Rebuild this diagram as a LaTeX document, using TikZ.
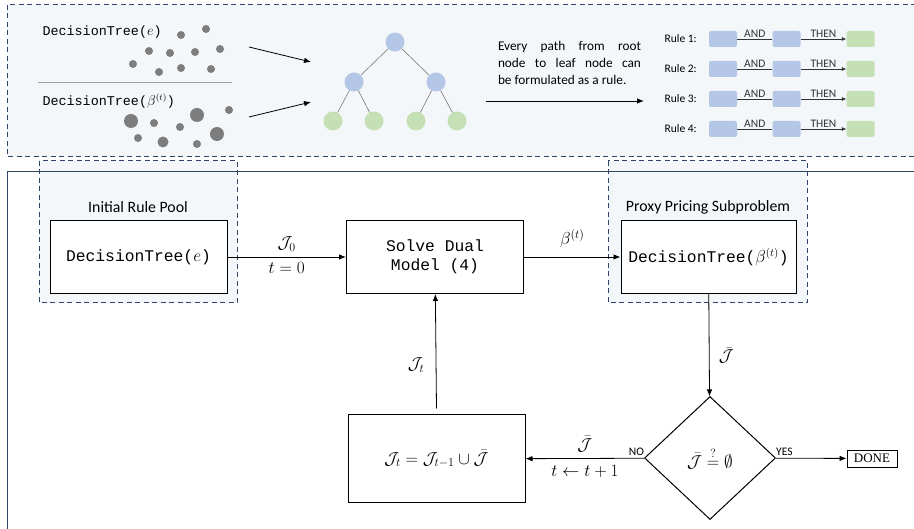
\documentclass[tikz,border=0pt]{standalone}
\usepackage{amsmath, amssymb}
\usepackage{fontspec}
\setmainfont{Carlito}
\setmonofont{Liberation Mono}
\newfontfamily\donefont{Liberation Serif}
\usetikzlibrary{arrows.meta, shapes.geometric}

\definecolor{navy}{RGB}{47,68,102}
\definecolor{panelfill}{RGB}{244,247,249}
\definecolor{dotgray}{RGB}{125,125,125}
\definecolor{tblue}{RGB}{180,199,231}
\definecolor{tgreen}{RGB}{197,224,180}

\tikzset{
  panel/.style={draw=navy, fill=panelfill, line width=1pt, dash pattern=on 5pt off 3.5pt},
  tnode/.style={circle, inner sep=0pt, minimum size=19pt},
  rbox/.style={rounded corners=2pt, inner sep=0pt, minimum width=28pt, minimum height=16pt},
  blk/.style={draw, line width=1pt, minimum width=177pt, minimum height=73pt, align=center,
    font=\fontsize{16.3}{19}\selectfont\ttfamily},
  flow/.style={-{Latex[length=7pt,width=5.5pt]}, line width=0.8pt},
  lbl/.style={font=\fontsize{17.5}{19}\selectfont},
  tag/.style={font=\fontsize{11.5}{13}\selectfont, inner sep=2pt}
}
% one line of the note, spread to the full width
\newcommand{\noteline}[1]{\makebox[143pt][s]{#1}}

\begin{document}
\begin{tikzpicture}[x=1pt, y=-1pt]
  \clip (0,0) rectangle (914,529);

  % top panel: from trees to rules
  \draw[panel] (7,5) rectangle (930,157);

  \node[anchor=west, font=\fontsize{13.4}{15}\selectfont\ttfamily] (dte) at (39,32) {DecisionTree($e$)};
  \node[anchor=west, font=\fontsize{13.4}{15}\selectfont\ttfamily] (dtb) at (39,101) {DecisionTree($\beta^{(t)}$)};
  \draw[gray!75, line width=0.9pt] (38,82) -- (232,82);

  \foreach \x/\y/\r in {181/35/4, 206/29/4, 149/51/4, 170/53/4, 195/52/4, 220/49/4,
                        133/64/4, 159/72/4, 181/68/4, 211/69/4,
                        131/121/7, 154/123/4, 197/115/7, 229/110/4, 180/127/4,
                        138/138/4, 163/142/5.5, 197/144/4, 217/134/7}
    \fill[dotgray] (\x,\y) circle (\r pt);

  \coordinate (s1) at (249,47);
  \coordinate (s2) at (249,117);
  \coordinate (e1) at (311,62);
  \coordinate (e2) at (311,102);
  \draw[flow] (s1) -- (e1);
  \draw[flow] (s2) -- (e2);

  % the tree
  \node[tnode, fill=tblue] (root) at (395,42) {};
  \node[tnode, fill=tblue] (m1) at (354,82) {};
  \node[tnode, fill=tblue] (m2) at (436,82) {};
  \node[tnode, fill=tgreen] (l1) at (333,121) {};
  \node[tnode, fill=tgreen] (l2) at (374,121) {};
  \node[tnode, fill=tgreen] (l3) at (416,121) {};
  \node[tnode, fill=tgreen] (l4) at (457,121) {};
  \draw[gray!80!black, line width=0.5pt] (root) -- (m1) (root) -- (m2)
    (m1) -- (l1) (m1) -- (l2) (m2) -- (l3) (m2) -- (l4);

  \node[align=left, inner sep=0pt, font=\fontsize{13.3}{17}\selectfont] (txt) at (569.5,63)
    {\noteline{Every path from root}\\ \noteline{node to leaf node can}\\ be formulated as a rule.};
  \coordinate (p1) at (486,101);
  \coordinate (p2) at (644,101);
  \draw[flow] (p1) -- (p2);

  \foreach \i/\y in {1/39, 2/69, 3/99, 4/129} {
    \node[tag, anchor=east] (rl\i) at (699,\y) {Rule \i:};
    \node[rbox, fill=tblue] (ra\i) at (723,\y) {};
    \node[rbox, fill=tblue] (rb\i) at (786.5,\y) {};
    \node[rbox, fill=tgreen] (rc\i) at (860.5,\y) {};
    \draw[black!80, line width=0.6pt] (ra\i) -- node[tag, above, inner sep=1pt] {AND} (rb\i);
    \draw[black!80, line width=0.6pt, -{Latex[length=4.5pt,width=4pt]}] (rb\i) -- node[tag, above, inner sep=1pt] {THEN} (rc\i);
  }

  % bottom panel: column generation loop
  \draw[panel] (39,161) rectangle (237,303);
  \draw[panel] (608,161) rectangle (807,303);
  \draw[navy, line width=1pt] (7,172) rectangle (930,560);

  \node[font=\fontsize{15.8}{18}\selectfont] (poolname) at (138,207) {Initial Rule Pool};
  \node[font=\fontsize{15.8}{18}\selectfont] (proxyname) at (708,207) {Proxy Pricing Subproblem};

  \node[blk, fill=white] (init) at (138.5,257) {DecisionTree($e$)};
  \node[blk] (dual) at (435,257) {Solve Dual\\Model (4)};
  \node[blk, fill=white, minimum width=175pt] (proxy) at (708.5,257) {DecisionTree($\beta^{(t)}$)};
  \node[blk, minimum height=88pt, font=\fontsize{18}{20}\selectfont] (union) at (436.5,459)
    {$\mathcal{J}_t=\mathcal{J}_{t-1}\cup\bar{\mathcal{J}}$};
  \node[diamond, draw, line width=1pt, inner sep=0pt, minimum width=131pt, minimum height=123pt,
    font=\fontsize{18}{20}\selectfont] (check) at (710,458) {$\bar{\mathcal{J}}\stackrel{?}{=}\emptyset$};
  \node[draw, line width=0.9pt, inner sep=0pt, minimum width=50pt, minimum height=17pt,
    font=\donefont\fontsize{13}{14}\selectfont] (done) at (872,458.5) {DONE};

  \draw[flow] (init) -- node[lbl, above=2pt] {$\mathcal{J}_0$} node[lbl, below=2pt] {$t=0$} (dual);
  \draw[flow] (dual) -- node[lbl, above=5pt] {$\beta^{(t)}$} (proxy);
  \draw[flow] (proxy) -- node[lbl, right=6pt, pos=0.6] {$\bar{\mathcal{J}}$} (check);
  \draw[flow] (check) -- node[tag, at start, above left, xshift=2pt] {NO}
    node[lbl, above=3pt] {$\bar{\mathcal{J}}$} node[lbl, below=3pt] {$t\leftarrow t+1$} (union);
  \draw[flow] (check) -- node[tag, at start, above right, xshift=-2pt] {YES} (done);
  \draw[flow] ([yshift=6pt]union.north) -- node[lbl, left=8pt, pos=0.38] {$\mathcal{J}_t$} (dual);
\end{tikzpicture}
\end{document}
